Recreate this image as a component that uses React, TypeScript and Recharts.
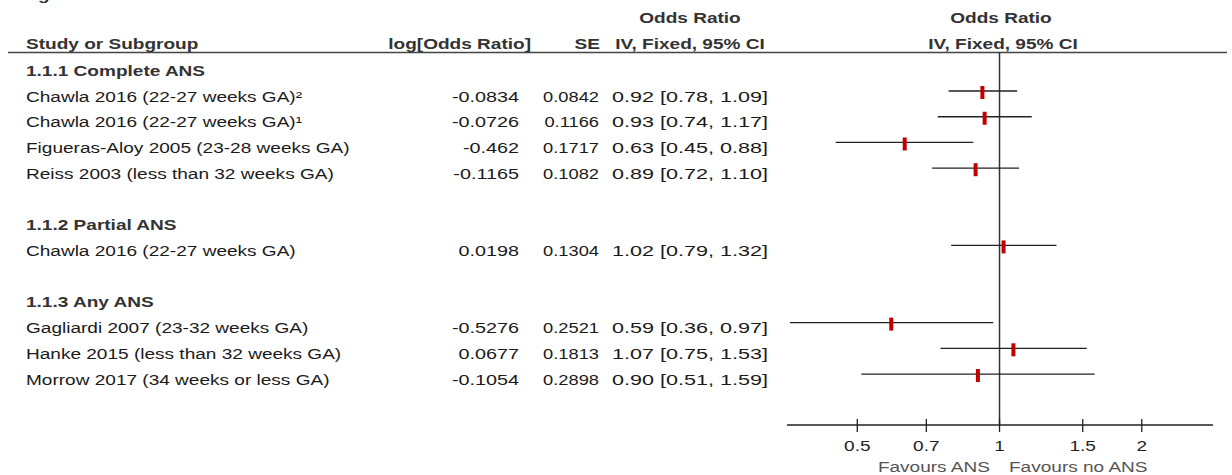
import React from 'react';
import { ComposedChart, XAxis, YAxis, Scatter, ReferenceLine, Customized } from 'recharts';

// ---- data ----
const subgroupLabels = ['1.1.1 Complete ANS', '1.1.2 Partial ANS', '1.1.3 Any ANS'];
const subgroupRows = [0, 6, 9];

const studyNames = [
  'Chawla 2016 (22-27 weeks GA)²',
  'Chawla 2016 (22-27 weeks GA)¹',
  'Figueras-Aloy 2005 (23-28 weeks GA)',
  'Reiss 2003 (less than 32 weeks GA)',
  'Chawla 2016 (22-27 weeks GA)',
  'Gagliardi 2007 (23-32 weeks GA)',
  'Hanke 2015 (less than 32 weeks GA)',
  'Morrow 2017 (34 weeks or less GA)',
];
const studyRows = [1, 2, 3, 4, 7, 10, 11, 12];
const logOddsRatio = [-0.0834, -0.0726, -0.462, -0.1165, 0.0198, -0.5276, 0.0677, -0.1054];
const standardError = [0.0842, 0.1166, 0.1717, 0.1082, 0.1304, 0.2521, 0.1813, 0.2898];
const oddsRatio = [0.92, 0.93, 0.63, 0.89, 1.02, 0.59, 1.07, 0.9];
const ciLower = [0.78, 0.74, 0.45, 0.72, 0.79, 0.36, 0.75, 0.51];
const ciUpper = [1.09, 1.17, 0.88, 1.1, 1.32, 0.97, 1.53, 1.59];

const xTicks = [0.5, 0.7, 1, 1.5, 2];
const xDomain = [0.355, 2.83];
const rowDomain = [-0.516, 13.98];

const points = studyNames.map((name, i) => ({
  name,
  x: oddsRatio[i],
  y: studyRows[i],
}));

const tickRows = [...subgroupRows, ...studyRows].sort((a, b) => a - b);

// ---- text helper (reference text is horizontally stretched) ----
const SX = 1.27;
const FONT = '"Liberation Sans", Arial, Helvetica, sans-serif';

function SText({ x, y, anchor = 'start', bold = false, fill = '#1a1a1a', size = 15, sx = SX, children }: any) {
  return (
    <text
      transform={`translate(${x},${y}) scale(${sx},1)`}
      x={0}
      y={0}
      textAnchor={anchor}
      fontFamily={FONT}
      fontSize={size}
      fontWeight={bold ? 'bold' : 'normal'}
      fill={fill}
    >
      {children}
    </text>
  );
}

const RowTick = (props: any) => {
  const { y, payload } = props;
  const r = payload.value;
  const base = y + 10.5;
  const g = subgroupRows.indexOf(r);
  if (g >= 0) {
    return (
      <g>
        <SText x={26} y={base} bold fill="#333">
          {subgroupLabels[g]}
        </SText>
      </g>
    );
  }
  const s = studyRows.indexOf(r);
  if (s >= 0) {
    return (
      <g>
        <SText x={26} y={base}>{studyNames[s]}</SText>
        <SText x={519} y={base} anchor="end" sx={1.32}>{String(logOddsRatio[s])}</SText>
        <SText x={599} y={base} anchor="end" sx={1.22}>{String(standardError[s])}</SText>
        <SText x={612} y={base} sx={1.44}>
          {`${oddsRatio[s].toFixed(2)} [${ciLower[s].toFixed(2)}, ${ciUpper[s].toFixed(2)}]`}
        </SText>
      </g>
    );
  }
  return <g />;
};

const AxisTick = (props: any) => {
  const { x, y, payload } = props;
  return (
    <g>
      <line x1={x} x2={x} y1={y - 6} y2={y + 7} stroke="#222" strokeWidth={1.3} />
      <SText x={x} y={y + 25.5} anchor="middle" fill="#222">
        {String(payload.value)}
      </SText>
    </g>
  );
};

const Header = () => (
  <g>
    <SText x={21} y={0} bold fill="#333">Figure</SText>
    <SText x={690} y={22.5} anchor="middle" bold fill="#333">Odds Ratio</SText>
    <SText x={26} y={49} bold fill="#333">Study or Subgroup</SText>
    <SText x={531} y={49} anchor="end" bold fill="#333">log[Odds Ratio]</SText>
    <SText x={600} y={49} anchor="end" bold fill="#333">SE</SText>
    <SText x={690} y={49} anchor="middle" bold fill="#333">IV, Fixed, 95% CI</SText>
    <SText x={1001} y={22.5} anchor="middle" bold fill="#333">Odds Ratio</SText>
    <SText x={1003} y={49} anchor="middle" bold fill="#333">IV, Fixed, 95% CI</SText>
    <line x1={8} x2={1227} y1={52.5} y2={52.5} stroke="#444" strokeWidth={1.5} />
    <SText x={990} y={472} anchor="end" fill="#555">Favours ANS</SText>
    <SText x={1009} y={472} fill="#555">Favours no ANS</SText>
  </g>
);

const Marker = (props: any) => {
  const { cx, cy } = props;
  return <rect x={cx - 2} y={cy - 5} width={4} height={13} fill="#c00000" />;
};

export default function App() {
  return (
    <div style={{ position: 'absolute', left: 0, top: 0, width: 1232, height: 475, background: '#fff' }}>
      <ComposedChart width={1232} height={475} margin={{ top: 52, right: 19, bottom: 0, left: 0 }}>
        <XAxis
          type="number"
          dataKey="x"
          scale="log"
          domain={xDomain}
          allowDataOverflow
          ticks={xTicks}
          interval={0}
          height={50}
          tickLine={false}
          tickSize={0}
          tickMargin={0}
          axisLine={{ stroke: '#222', strokeWidth: 1.3 }}
          tick={<AxisTick />}
        />
        <YAxis
          type="number"
          dataKey="y"
          domain={rowDomain}
          reversed
          allowDataOverflow
          ticks={tickRows}
          interval={0}
          width={787}
          axisLine={false}
          tickLine={false}
          tick={<RowTick />}
        />
        <ReferenceLine x={1} stroke="#333" strokeWidth={1.5} ifOverflow="visible" />
        {points.map((p, i) => (
          <ReferenceLine
            key={p.name + i}
            segment={[
              { x: ciLower[i], y: studyRows[i] },
              { x: ciUpper[i], y: studyRows[i] },
            ]}
            stroke="#222"
            strokeWidth={1.3}
            ifOverflow="visible"
          />
        ))}
        <Scatter data={points} dataKey="y" shape={<Marker />} isAnimationActive={false} />
        <Customized component={Header} />
      </ComposedChart>
    </div>
  );
}
